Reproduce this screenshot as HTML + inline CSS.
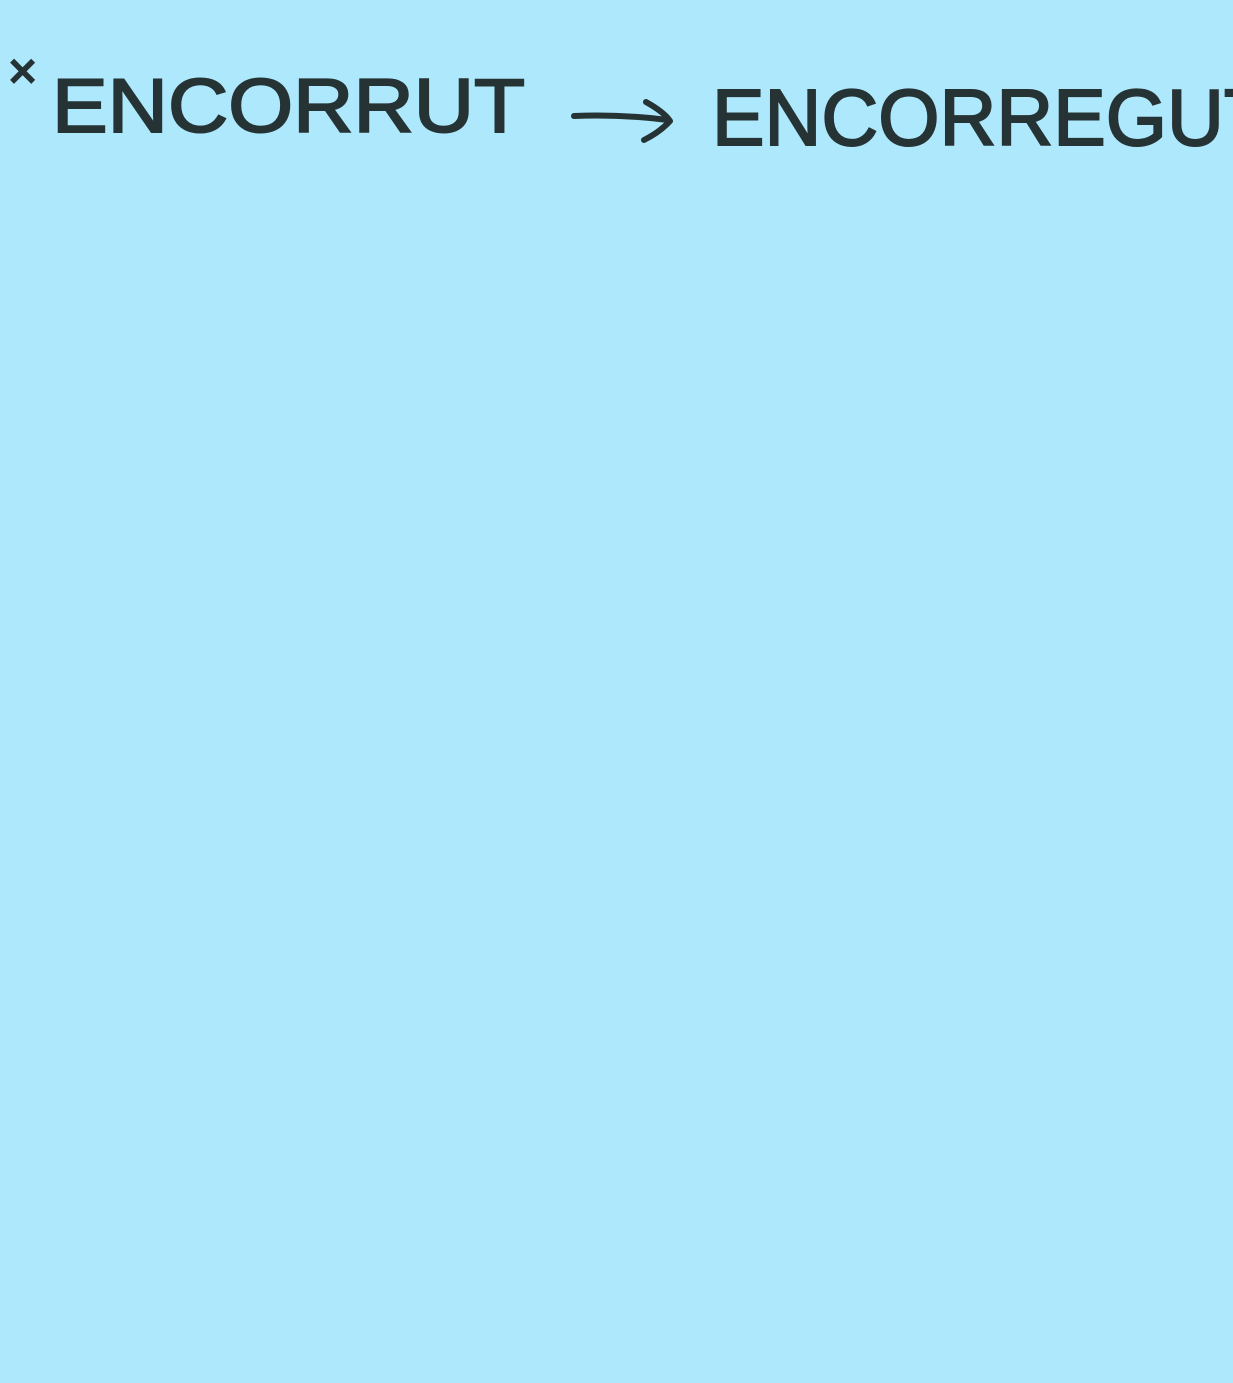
<!DOCTYPE html>
<html>
<head>
<meta charset="utf-8">
<style>
  html, body { margin: 0; padding: 0; }
  body { width: 1233px; height: 1383px; background: #ade8fd; overflow: hidden; }
  svg { display: block; }
  text { font-family: "Liberation Sans", "DejaVu Sans", sans-serif; fill: #263334; stroke: #263334; stroke-width: 2; }
</style>
</head>
<body>
<svg width="1233" height="1383" viewBox="0 0 1233 1383">
  <rect x="0" y="0" width="1233" height="1383" fill="#ade8fd"/>
  <text x="8" y="88" font-size="50">×</text>
  <text x="52" y="132" font-size="76" textLength="473" lengthAdjust="spacingAndGlyphs">ENCORRUT</text>
  <g stroke="#263334" stroke-width="6" fill="none" stroke-linecap="round" stroke-linejoin="round">
    <path d="M574 116 Q620 114 668 120"/>
    <path d="M646 102 Q664 112 670 121 Q660 132 644 140"/>
  </g>
  <text x="712" y="145" font-size="80" textLength="560" lengthAdjust="spacingAndGlyphs">ENCORREGUT</text>
</svg>
</body>
</html>
